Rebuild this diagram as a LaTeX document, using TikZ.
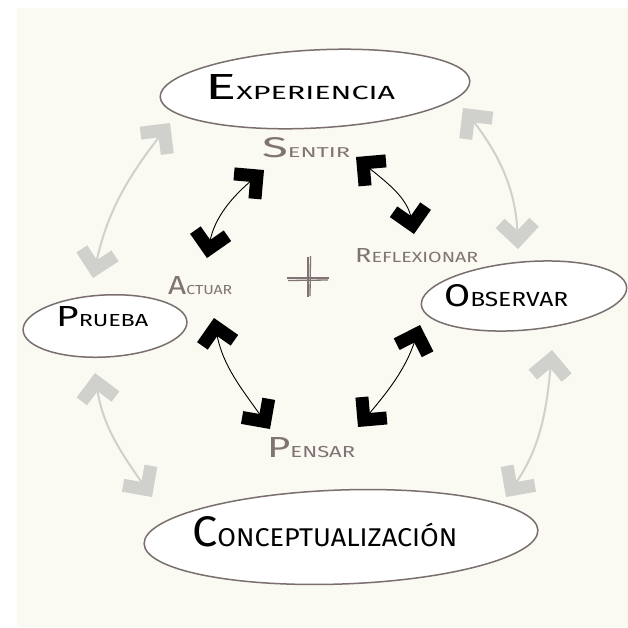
\documentclass[tikz,border=0pt]{standalone}
\usepackage{graphicx}
\usepackage{fontspec}
\usetikzlibrary{arrows.meta,shapes.geometric}

\newfontfamily\handfont{Fira Sans}

\definecolor{paper}{RGB}{250,249,242}
\definecolor{rim}{RGB}{122,110,110}
\definecolor{pencil}{RGB}{128,115,115}
\definecolor{ghost}{RGB}{208,208,204}

% word in "small caps" hand lettering: width, height, first letter, rest, size of rest (first letter is 20pt)
\newcommand\handword[5]{\resizebox{#1}{#2}{\handfont{\fontsize{20}{20}\selectfont #3}{\fontsize{#5}{#5}\selectfont #4}}}

\tikzset{
  bubble/.style={ellipse, draw=rim, line width=1.5pt, fill=white, inner sep=0pt},
  bigword/.style={text=black, inner sep=0pt, anchor=south west},
  smallword/.style={text=pencil, inner sep=0pt, anchor=south west},
  cyclearrow/.style={draw=black, line width=0.9pt,
    arrows={Straight Barb[angle=90:23pt, line width=13pt]-Straight Barb[angle=90:23pt, line width=13pt]}},
  outerarrow/.style={draw=ghost, line width=2pt,
    arrows={Straight Barb[angle=90:24pt, line width=13pt]-Straight Barb[angle=90:24pt, line width=13pt]}},
}

\begin{document}
\begin{tikzpicture}[x=1pt, y=-1pt]
  % sheet and margins
  \fill[white] (0,0) rectangle (628,627);
  \fill[paper] (17,8) rectangle (628,627);
  \useasboundingbox (0,0) rectangle (628,627);

  % the four stages
  \node[bubble, minimum width=310pt, minimum height=78pt, rotate=3] (exp) at (315,89) {};
  \node[bubble, minimum width=206pt, minimum height=68pt, rotate=5] (obs) at (524,296) {};
  \node[bubble, minimum width=164pt, minimum height=62pt, rotate=3] (pru) at (105,326) {};
  \node[bubble, minimum width=394pt, minimum height=94pt, rotate=2] (con) at (341,537) {};

  \node[bigword] (expText) at (205,100) {\handword{190pt}{25pt}{E}{XPERIENCIA}{10.5}};
  \node[bigword] (obsText) at (444,307) {\handword{124pt}{22pt}{O}{BSERVAR}{13}};
  \node[bigword] (pruText) at (56,327) {\handword{92pt}{20pt}{P}{RUEBA}{12}};
  \node[bigword] (conText) at (192,547) {\handword{265pt}{30pt}{C}{ONCEPTUALIZACIÓN}{12}};

  % inner verbs
  \node[smallword] (sentir) at (262,158) {\handword{88pt}{20pt}{S}{ENTIR}{10}};
  \node[smallword] (reflex) at (355,263) {\handword{123pt}{14pt}{R}{EFLEXIONAR}{14.5}};
  \node[smallword] (actuar) at (168,295) {\handword{64pt}{18pt}{A}{CTUAR}{10}};
  \node[smallword] (pensar) at (267,458) {\handword{88pt}{20pt}{P}{ENSAR}{11}};

  % centre cross
  \draw[pencil, line width=1.3pt] (308,257) -- (308,297);
  \draw[pencil, line width=1.3pt] (310.5,256) -- (310,296);
  \draw[pencil, line width=1.3pt] (287,278) -- (329,278);
  \draw[pencil, line width=1.3pt] (288,280.5) -- (328,280);

  % arrow end points
  \coordinate (a1s) at (207,258); \coordinate (a1e) at (264,170);
  \coordinate (a2s) at (356,157); \coordinate (a2e) at (414,234);
  \coordinate (a3s) at (214,318); \coordinate (a3e) at (270,429);
  \coordinate (a4s) at (420,325); \coordinate (a4e) at (358,427);
  \coordinate (g1s) at (170,123); \coordinate (g1e) at (93,278);
  \coordinate (g2s) at (463,108); \coordinate (g2e) at (518,249);
  \coordinate (g3s) at (95,373);  \coordinate (g3e) at (152,497);
  \coordinate (g4s) at (552,350); \coordinate (g4e) at (506,497);

  % inner cycle (out/in angles are canvas angles)
  \draw[cyclearrow] (a1s) to[out=80, in=-140] (a1e);
  \draw[cyclearrow] (a2s) to[out=-40, in=100] (a2e);
  \draw[cyclearrow] (a3s) to[out=-80, in=125] (a3e);
  \draw[cyclearrow] (a4s) to[out=-108, in=50] (a4e);

  % outer cycle
  \draw[outerarrow] (g1s) to[out=-128, in=78] (g1e);
  \draw[outerarrow] (g2s) to[out=-52, in=92] (g2e);
  \draw[outerarrow] (g3s) to[out=-82, in=125] (g3e);
  \draw[outerarrow] (g4s) to[out=-95, in=55] (g4e);
\end{tikzpicture}
\end{document}
